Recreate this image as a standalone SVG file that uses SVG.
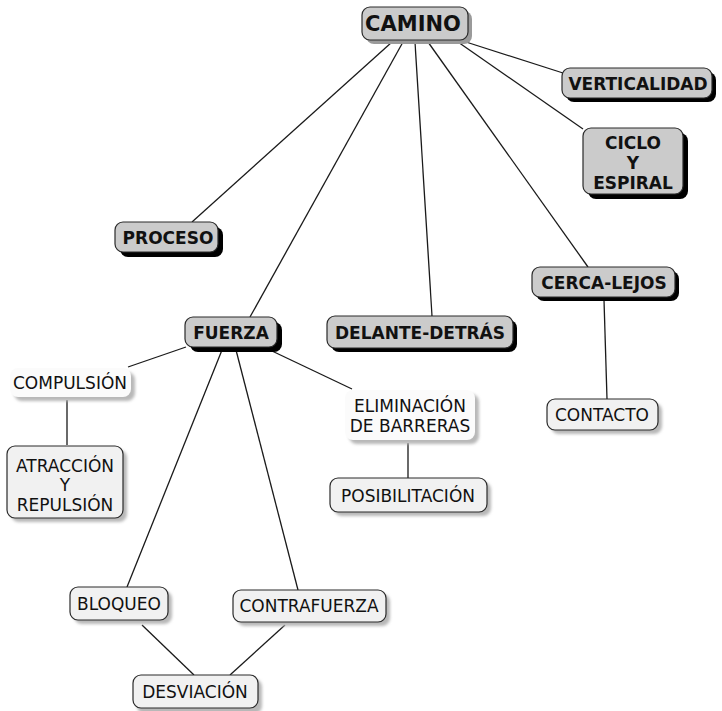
<svg xmlns="http://www.w3.org/2000/svg" width="722" height="711" viewBox="0 0 722 711">
  <style>
    .bg { fill: #ffffff; }
    .link { stroke: #1a1a1a; stroke-width: 1.3; fill: none; }
    .main-shadow { fill: #000000; }
    .main { fill: #cbcbcb; stroke: #2a2a2a; stroke-width: 1.2; }
    .sub-shadow { fill: #b8b8b8; filter: url(#soft); }
    .sub { fill: #f1f1f1; stroke: #2a2a2a; stroke-width: 1.2; }
    .plain { fill: #fbfbfb; stroke: none; }
    .tb { font-family: "DejaVu Sans", Verdana, sans-serif; font-weight: bold; font-size: 17px; fill: #111; text-anchor: middle; }
    .tn { font-family: "DejaVu Sans", Verdana, sans-serif; font-size: 17px; fill: #111; text-anchor: middle; }
    .root { font-size: 21px; }
  </style>
  <defs>
    <filter id="soft" x="-20%" y="-20%" width="140%" height="140%">
      <feGaussianBlur stdDeviation="1.5"/>
    </filter>
  </defs>
  <rect class="bg" x="0" y="0" width="722" height="711"/>

  <g id="connectors">
    <line class="link" x1="466" y1="42" x2="563" y2="73"/>
    <line class="link" x1="458" y1="42" x2="583" y2="129"/>
    <line class="link" x1="392" y1="42" x2="192" y2="222"/>
    <line class="link" x1="403" y1="42" x2="250" y2="317"/>
    <line class="link" x1="415" y1="42" x2="432" y2="316"/>
    <line class="link" x1="428" y1="42" x2="588" y2="267"/>
    <line class="link" x1="604" y1="300" x2="607" y2="399"/>
    <line class="link" x1="186" y1="347" x2="128" y2="367"/>
    <line class="link" x1="272" y1="351" x2="352" y2="389"/>
    <line class="link" x1="222" y1="350" x2="127" y2="587"/>
    <line class="link" x1="236" y1="350" x2="298" y2="590"/>
    <line class="link" x1="67" y1="400" x2="67" y2="445"/>
    <line class="link" x1="408" y1="443" x2="408" y2="478"/>
    <line class="link" x1="142" y1="625" x2="194" y2="675"/>
    <line class="link" x1="285" y1="625" x2="230" y2="675"/>
  </g>

  <g id="camino">
    <rect x="366" y="11" width="106" height="33" rx="8" fill="#9a9a9a"/>
    <rect class="main" x="362" y="7" width="106" height="33" rx="8"/>
    <text class="tb root" x="413" y="31">CAMINO</text>
  </g>

  <g id="verticalidad">
    <rect class="main-shadow" x="566" y="72" width="150" height="30" rx="8"/>
    <rect class="main" x="562" y="68" width="150" height="30" rx="8"/>
    <text class="tb" x="638" y="90">VERTICALIDAD</text>
  </g>

  <g id="ciclo">
    <rect class="main-shadow" x="588" y="133" width="100" height="66" rx="8"/>
    <rect class="main" x="583" y="128" width="100" height="66" rx="8"/>
    <text class="tb" x="633" y="149">CICLO</text>
    <text class="tb" x="633" y="169">Y</text>
    <text class="tb" x="633" y="189">ESPIRAL</text>
  </g>

  <g id="proceso">
    <rect class="main-shadow" x="120" y="227" width="103" height="30" rx="8"/>
    <rect class="main" x="115" y="222" width="103" height="30" rx="8"/>
    <text class="tb" x="168" y="244">PROCESO</text>
  </g>

  <g id="cerca-lejos">
    <rect class="main-shadow" x="536" y="271" width="143" height="30" rx="8"/>
    <rect class="main" x="532" y="267" width="143" height="30" rx="8"/>
    <text class="tb" x="604" y="289">CERCA-LEJOS</text>
  </g>

  <g id="fuerza">
    <rect class="main-shadow" x="190" y="322" width="92" height="30" rx="8"/>
    <rect class="main" x="185" y="317" width="92" height="30" rx="8"/>
    <text class="tb" x="231" y="339">FUERZA</text>
  </g>

  <g id="delante-detras">
    <rect class="main-shadow" x="331" y="320" width="186" height="32" rx="8"/>
    <rect class="main" x="327" y="316" width="186" height="32" rx="8"/>
    <text class="tb" x="420" y="339">DELANTE-DETRÁS</text>
  </g>

  <g id="compulsion">
    <rect class="sub-shadow" x="14" y="372" width="121" height="29" rx="8"/>
    <rect class="plain" x="10" y="368" width="121" height="29" rx="8"/>
    <text class="tn" x="70" y="389">COMPULSIÓN</text>
  </g>

  <g id="atraccion">
    <rect class="sub-shadow" x="11" y="450" width="116" height="72" rx="8"/>
    <rect class="sub" x="7" y="446" width="116" height="72" rx="8"/>
    <text class="tn" x="65" y="472">ATRACCIÓN</text>
    <text class="tn" x="65" y="491">Y</text>
    <text class="tn" x="65" y="511">REPULSIÓN</text>
  </g>

  <g id="eliminacion">
    <rect class="sub-shadow" x="349" y="394" width="130" height="50" rx="8"/>
    <rect class="plain" x="345" y="390" width="130" height="50" rx="8"/>
    <text class="tn" x="410" y="412">ELIMINACIÓN</text>
    <text class="tn" x="410" y="432">DE BARRERAS</text>
  </g>

  <g id="posibilitacion">
    <rect class="sub-shadow" x="334" y="482" width="157" height="34" rx="8"/>
    <rect class="sub" x="330" y="478" width="157" height="34" rx="8"/>
    <text class="tn" x="408" y="502">POSIBILITACIÓN</text>
  </g>

  <g id="contacto">
    <rect class="sub-shadow" x="551" y="403" width="111" height="31" rx="8"/>
    <rect class="sub" x="547" y="399" width="111" height="31" rx="8"/>
    <text class="tn" x="602" y="421">CONTACTO</text>
  </g>

  <g id="bloqueo">
    <rect class="sub-shadow" x="74" y="591" width="98" height="33" rx="8"/>
    <rect class="sub" x="70" y="587" width="98" height="33" rx="8"/>
    <text class="tn" x="119" y="610">BLOQUEO</text>
  </g>

  <g id="contrafuerza">
    <rect class="sub-shadow" x="237" y="594" width="153" height="32" rx="8"/>
    <rect class="sub" x="233" y="590" width="153" height="32" rx="8"/>
    <text class="tn" x="309" y="612">CONTRAFUERZA</text>
  </g>

  <g id="desviacion">
    <rect class="sub-shadow" x="137" y="679" width="125" height="35" rx="8"/>
    <rect class="sub" x="133" y="675" width="125" height="33" rx="8"/>
    <text class="tn" x="195" y="698">DESVIACIÓN</text>
  </g>
</svg>
